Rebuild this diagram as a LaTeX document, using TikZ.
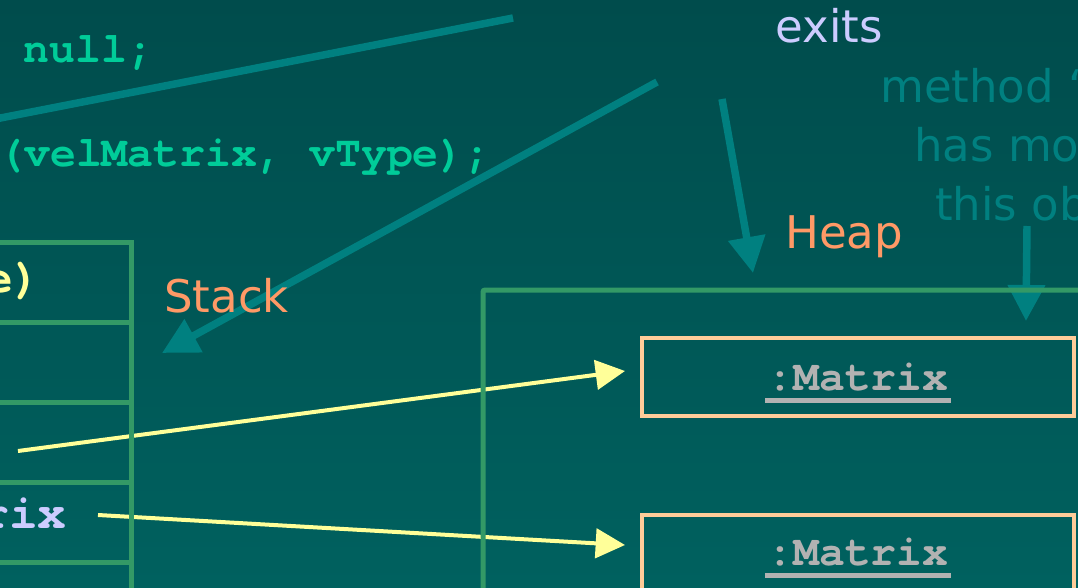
\documentclass[tikz,border=0pt]{standalone}
\usepackage{fontspec}
\setmainfont{DejaVu Sans}
\newfontfamily\codefont{texgyrecursor}[Extension=.otf,UprightFont=*-regular,BoldFont=*-bold]
\usetikzlibrary{arrows.meta,calc}

\definecolor{slidetop}{RGB}{0,76,76}
\definecolor{slidebot}{RGB}{0,97,95}
\definecolor{callout}{RGB}{0,128,128}
\definecolor{framegreen}{RGB}{51,153,102}
\definecolor{objedge}{RGB}{255,204,153}
\definecolor{areatitle}{RGB}{255,153,102}
\definecolor{lilac}{RGB}{204,204,255}
\definecolor{codegreen}{RGB}{0,204,153}
\definecolor{refyellow}{RGB}{255,255,153}
\definecolor{objgray}{RGB}{178,178,178}

\tikzset{
	code/.style={font=\codefont\bfseries\fontsize{32.4}{36}\selectfont,inner sep=0pt,anchor=base west},
	slot/.style={font=\codefont\bfseries\fontsize{36}{40}\selectfont,inner sep=0pt,anchor=base east},
	title/.style={font=\fontsize{33.75}{40}\selectfont,inner sep=0pt,anchor=base west},
	cell/.style={draw=framegreen,line width=3.75pt,minimum width=113.25pt,minimum height=60pt,inner sep=0pt},
	objbox/.style={draw=objedge,line width=3pt,minimum width=324pt,minimum height=58.5pt,inner sep=0pt},
	objname/.style={font=\codefont\bfseries\fontsize{32.25}{36}\selectfont,text=objgray,inner sep=0pt,anchor=base},
	calline/.style={draw=callout,line width=5.6pt},
	calarrow/.style={calline,-{Triangle[length=27pt,width=27pt]}},
	refarrow/.style={draw=refyellow,line width=3pt,-{Triangle[length=22pt,width=22pt]}}
}

\begin{document}
\begin{tikzpicture}[x=0.75pt,y=-0.75pt]
	\useasboundingbox (0,0) rectangle (1078,588);
	\clip (0,0) rectangle (1078,588);
	\fill[top color=slidetop,bottom color=slidebot] (0,0) rectangle (1078,588);

	% objects on the heap
	\node[objbox] (m1) at (858,377) {};
	\node[objbox] (m2) at (858,554) {};
	\foreach \m/\b in {m1/390,m2/565} {
		\node[objname] (\m n) at (858,\b) {:Matrix};
		\draw[objgray,line width=3.75pt] ($(\m n.base west)+(-2,10)$) -- ($(\m n.base east)+(2,10)$);
	}

	% stack slots
	\node[slot,text=refyellow] (frame) at (42,292) {e)};
	\node[slot,text=lilac] (vel) at (67,528) {rix};

	\coordinate (r1) at (18,451);
	\coordinate (r2) at (98,515);
	\draw[refarrow] (r1) -- ($(m1.west)+(-15,-6)$);
	\draw[refarrow] (r2) -- ($(m2.west)+(-15,-9)$);

	% callout arrows
	\coordinate (c1) at (513,18);  \coordinate (c1e) at (-20,122);
	\coordinate (c2) at (657,82);  \coordinate (c2e) at (162,353);
	\coordinate (c3) at (722,99);  \coordinate (c3e) at (753,273);
	\coordinate (c4) at (1027,226); \coordinate (c4e) at (1026,321);
	\draw[calline] (c1) -- (c1e);
	\draw[calarrow] (c2) -- (c2e);
	\draw[calarrow] (c3) -- (c3e);
	\draw[calarrow] (c4) -- (c4e);

	% code lines
	\node[code,text=codegreen] (nul) at (23.5,63) {null;};
	\node[code,text=codegreen] (call) at (-2,167) {(velMatrix, vType);};

	% notes
	\node[title,text=lilac] (exits) at (775.5,43) {exits};
	\node[title,text=callout] (note1) at (880,103) {method “};
	\node[title,text=callout] (note2) at (914,162) {has mod};
	\node[title,text=callout] (note3) at (935,220) {this ob};
	\node[title,text=areatitle] (stacklbl) at (164,312) {Stack};
	\node[title,text=areatitle] (heaplbl) at (785,248) {Heap};

	% stack and heap frames
	\foreach \i/\y in {0/282,1/362,2/442,3/522,4/602}
		\node[cell] (s\i) at (55.5,\y) {};
	\draw[framegreen,line width=3.75pt,rounded corners=1.5pt] (483,620) -- (483,290) -- (1100,290);
\end{tikzpicture}
\end{document}
